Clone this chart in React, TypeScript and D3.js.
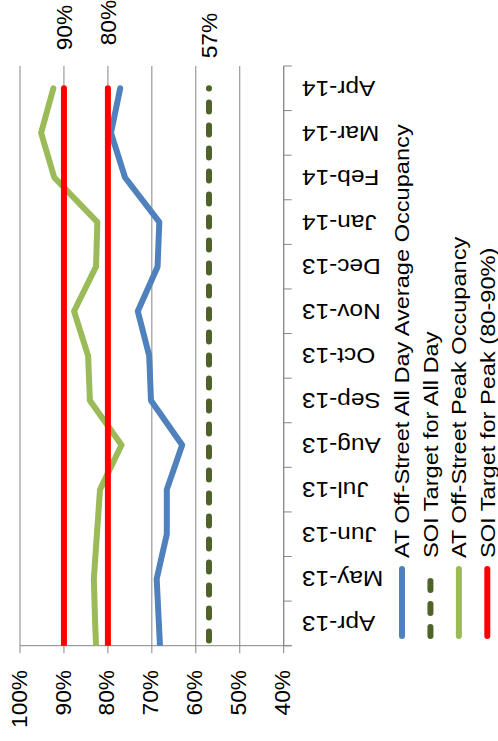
import React from "react";
import * as d3 from "d3";

// Months on the category axis
const categories = [
  "Apr-13", "May-13", "Jun-13", "Jul-13", "Aug-13", "Sep-13", "Oct-13",
  "Nov-13", "Dec-13", "Jan-14", "Feb-14", "Mar-14", "Apr-14",
];

// Occupancy (%) for the month before Apr-13: the series run in from it and are clipped at the plot edge
const allDayPrior = 67.9;
const peakPrior = 82.5;

// AT Off-Street All Day Average Occupancy (%)
const allDayAverage = [68.4, 68.9, 66.6, 66.6, 63.1, 70.2, 70.6, 73.2, 68.7, 68.3, 76.1, 79.3, 77.2];
// AT Off-Street Peak Occupancy (%)
const peakOccupancy = [82.9, 83.2, 82.5, 81.8, 76.9, 84.1, 84.5, 87.7, 82.7, 82.4, 92.2, 95.2, 92.4];

// SOI targets (%)
const allDayTarget = 57;
const peakTargetLow = 80;
const peakTargetHigh = 90;

// Value axis ticks (%)
const valueTicks = [100, 90, 80, 70, 60, 50, 40];

// Legend entries
const legendLabels = [
  "AT Off-Street All Day Average Occupancy",
  "SOI Target for All Day",
  "AT Off-Street Peak Occupancy",
  "SOI Target for Peak (80-90%)",
];

// End-of-line value labels and how far past the last month each one sits
const endLabelValues = [peakTargetHigh, peakTargetLow, allDayTarget];
const endLabelGap = [38, 43, 30];

const COLORS = {
  allDay: "#4F81BD",
  allDayTarget: "#4F6228",
  peak: "#9BBB59",
  peakTarget: "#FF0000",
  axis: "#868686",
};

const FONT = "'Liberation Sans', Arial, sans-serif";

// The chart is laid out landscape (W x H) and turned a quarter turn counter-clockwise onto the page.
const W = 741;
const H = 498;

// Text in this chart is set slightly wide
const WIDE = 1.13;

export default function App() {
  const plot = { left: 95.3, right: 675, top: 20, bottom: 283.7 };

  const x = d3.scaleLinear().domain([-0.5, categories.length - 0.5]).range([plot.left, plot.right]);
  const y = d3.scaleLinear().domain([40, 100]).range([plot.bottom, plot.top]);

  const line = d3
    .line<number>()
    .x((_, i) => x(i - 1))
    .y((d) => y(d));

  const flat = (v: number) => [v, ...categories.map(() => v)];

  const series = [
    { key: "allDay", values: [allDayPrior, ...allDayAverage], color: COLORS.allDay, dash: undefined },
    { key: "allDayTarget", values: flat(allDayTarget), color: COLORS.allDayTarget, dash: "9 14" },
    { key: "peak", values: [peakPrior, ...peakOccupancy], color: COLORS.peak, dash: undefined },
    { key: "peakLow", values: flat(peakTargetLow), color: COLORS.peakTarget, dash: undefined },
    { key: "peakHigh", values: flat(peakTargetHigh), color: COLORS.peakTarget, dash: undefined },
  ];

  const legendItems = [
    { color: COLORS.allDay, dash: undefined },
    { color: COLORS.allDayTarget, dash: "9 14" },
    { color: COLORS.peak, dash: undefined },
    { color: COLORS.peakTarget, dash: undefined },
  ];
  const legendRow = d3.scaleLinear().domain([0, 3]).range([402, 487.3]);

  const boundaries = d3.range(categories.length + 1).map((k) => k - 0.5);
  const lastIndex = categories.length - 1;

  return (
    <svg
      width={H}
      height={W}
      style={{ position: "absolute", left: 0, top: 0, background: "#fff" }}
      fontFamily={FONT}
    >
      <defs>
        <clipPath id="plotClip">
          <rect x={plot.left} y={plot.top - 10} width={plot.right - plot.left} height={plot.bottom - plot.top + 20} />
        </clipPath>
      </defs>
      <g transform={`translate(0,${W}) rotate(-90)`}>
        {/* horizontal gridlines */}
        {valueTicks.map((v) => (
          <line key={`g${v}`} x1={plot.left} x2={plot.right} y1={y(v)} y2={y(v)} stroke={COLORS.axis} strokeWidth={1} />
        ))}

        {/* value axis */}
        <line x1={plot.left} x2={plot.left} y1={plot.top} y2={plot.bottom + 8} stroke={COLORS.axis} strokeWidth={1} />
        {valueTicks.map((v) => (
          <line key={`t${v}`} x1={plot.left - 7.5} x2={plot.left} y1={y(v)} y2={y(v)} stroke={COLORS.axis} strokeWidth={1} />
        ))}
        {valueTicks.map((v) => (
          <text
            key={`l${v}`}
            transform={`translate(71,${y(v)}) scale(1.04,1)`}
            dy="0.3em"
            textAnchor="end"
            fontSize={21.8}
            fill="#000"
          >
            {`${v}%`}
          </text>
        ))}

        {/* category axis */}
        <line x1={plot.left} x2={plot.right} y1={plot.bottom} y2={plot.bottom} stroke={COLORS.axis} strokeWidth={1} />
        {boundaries.map((b) => (
          <line key={`c${b}`} x1={x(b)} x2={x(b)} y1={plot.bottom} y2={plot.bottom + 8} stroke={COLORS.axis} strokeWidth={1} />
        ))}
        {categories.map((c, i) => (
          <text
            key={c}
            transform={`translate(${x(i)},302) rotate(-90) scale(${WIDE},1)`}
            dy="0.34em"
            textAnchor="end"
            fontSize={21.6}
            fill="#000"
          >
            {c}
          </text>
        ))}

        {/* series */}
        <g clipPath="url(#plotClip)">
          {series.map((s) => (
            <path
              key={s.key}
              d={line(s.values) ?? ""}
              fill="none"
              stroke={s.color}
              strokeWidth={6}
              strokeLinecap="round"
              strokeLinejoin="round"
              strokeDasharray={s.dash}
              strokeDashoffset={s.dash ? 18.5 : undefined}
            />
          ))}
        </g>

        {/* end-of-line value labels */}
        {endLabelValues.map((v, k) => (
          <text
            key={`e${k}`}
            transform={`translate(${x(lastIndex) + endLabelGap[k]},${y(v)}) scale(1.04,1)`}
            dy="0.36em"
            fontSize={21.8}
            fill="#000"
          >
            {`${v}%`}
          </text>
        ))}

        {/* legend */}
        {legendLabels.map((label, k) => (
          <g key={label}>
            <line
              x1={105}
              x2={172}
              y1={legendRow(k)}
              y2={legendRow(k)}
              stroke={legendItems[k].color}
              strokeWidth={6}
              strokeLinecap="round"
              strokeDasharray={legendItems[k].dash}
            />
            <text
              transform={`translate(183,${legendRow(k)}) scale(${WIDE},1)`}
              dy="0.35em"
              fontSize={20.9}
              fill="#000"
            >
              {label}
            </text>
          </g>
        ))}
      </g>
    </svg>
  );
}
